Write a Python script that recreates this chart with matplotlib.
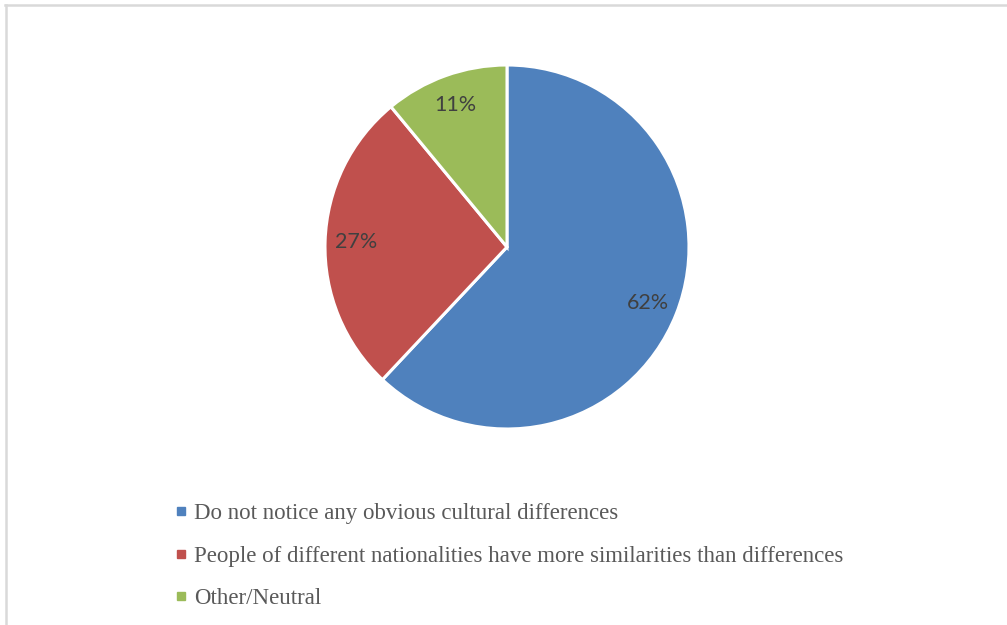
import matplotlib
matplotlib.use("Agg")
import matplotlib.pyplot as plt
from matplotlib.lines import Line2D

categories = [
    "Do not notice any obvious cultural differences",
    "People of different nationalities have more similarities than differences",
    "Other/Neutral",
]
values = [62, 27, 11]
colors = ["#4F81BD", "#C0504D", "#9BBB59"]

W, H = 1007, 625
fig = plt.figure(figsize=(W / 100, H / 100), dpi=100)
fig.patch.set_facecolor("white")

# light frame (top and left edges)
fig.add_artist(Line2D([5 / W, 1.0], [1 - 4.5 / H, 1 - 4.5 / H], color="#d9d9d9", lw=1.8))
fig.add_artist(Line2D([5.5 / W, 5.5 / W], [0, 1 - 4.5 / H], color="#d9d9d9", lw=1.8))

cx, cy, r = 507, 247, 182
ax = fig.add_axes([(cx - r) / W, (H - cy - r) / H, 2 * r / W, 2 * r / H])
wedges, texts, autotexts = ax.pie(
    values,
    colors=colors,
    startangle=90,
    counterclock=False,
    autopct=lambda p: f"{p:.0f}%",
    pctdistance=0.83,
    wedgeprops=dict(edgecolor="white", linewidth=2.2),
    textprops=dict(color="#404040", fontsize=15.5, family=["Lato", "DejaVu Sans"]),
)
ax.set_xlim(-1, 1)
ax.set_ylim(-1, 1)
ax.set_aspect("equal")
ax.axis("off")

handles = [
    Line2D([], [], linestyle="none", marker="s", markersize=5.5, markerfacecolor=c, markeredgecolor=c)
    for c in colors
]
leg = fig.legend(
    handles,
    categories,
    loc="upper left",
    bbox_to_anchor=(165 / W, 1 - 494 / H),
    frameon=False,
    handlelength=0.6,
    handletextpad=0.25,
    labelspacing=0.93,
    borderaxespad=0,
    prop=dict(family=["Liberation Serif", "DejaVu Serif"], size=16.5),
    labelcolor="#595959",
)

fig.savefig("out.png", dpi=100, facecolor="white")
